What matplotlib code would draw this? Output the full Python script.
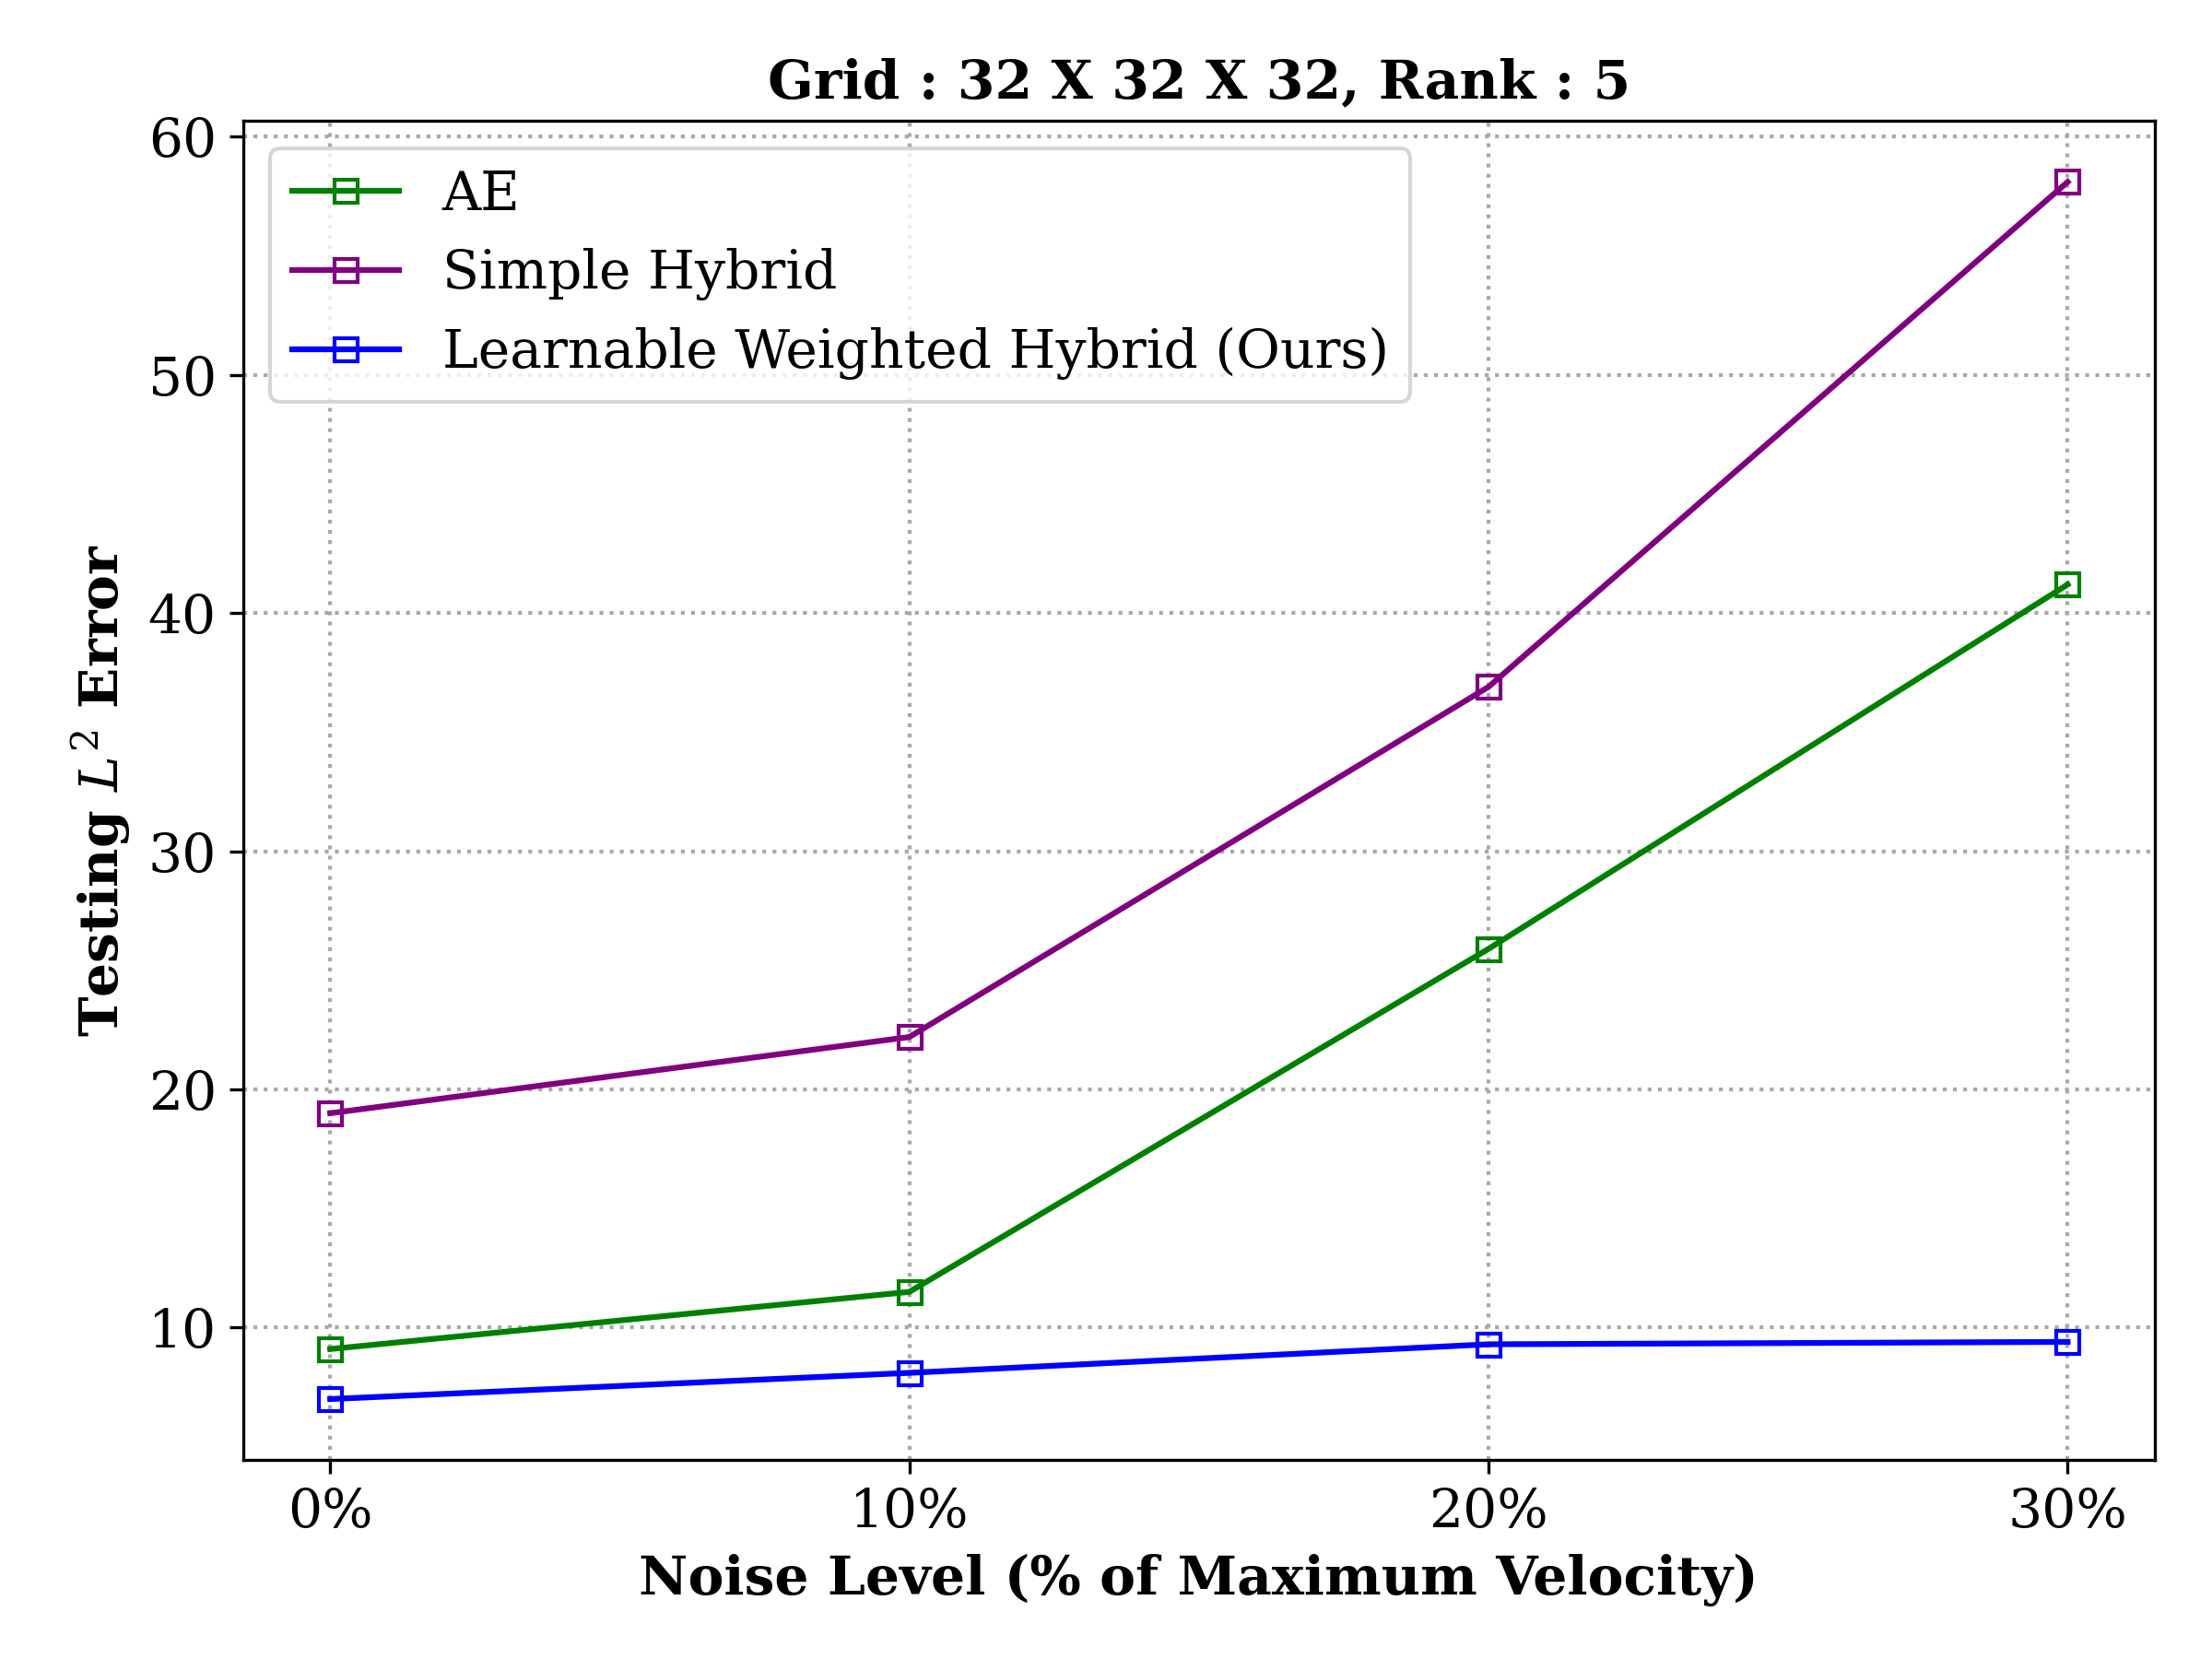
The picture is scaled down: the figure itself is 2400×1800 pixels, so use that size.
import matplotlib
matplotlib.use("Agg")
import matplotlib.pyplot as plt

plt.rcParams["font.family"] = "DejaVu Serif"
plt.rcParams["mathtext.fontset"] = "dejavuserif"

NOISE_LABELS = ["0%", "10%", "20%", "30%"]
NOISE_X = [0, 10, 20, 30]
AE = [9.1, 11.5, 25.9, 41.2]
SIMPLE_HYBRID = [19.0, 22.2, 36.9, 58.1]
LEARNABLE_HYBRID = [7.0, 8.1, 9.3, 9.4]

SERIES = [
    ("AE", AE, "green"),
    ("Simple Hybrid", SIMPLE_HYBRID, "purple"),
    ("Learnable Weighted Hybrid (Ours)", LEARNABLE_HYBRID, "blue"),
]

fig, ax = plt.subplots(figsize=(8, 6), dpi=300)
for name, vals, color in SERIES:
    ax.plot(NOISE_X, vals, "s-", color=color, markerfacecolor="none",
            markersize=6, linewidth=1.5, label=name)

ax.set_xticks(NOISE_X)
ax.set_xticklabels(NOISE_LABELS, fontsize=14)
ax.tick_params(axis="y", labelsize=14)
ax.set_xlabel("Noise Level (% of Maximum Velocity)", fontsize=14, fontweight="bold")
ax.set_ylabel(r"Testing $L^2$ Error", fontsize=14, fontweight="bold")
ax.set_title("Grid : 32 X 32 X 32, Rank : 5", fontsize=14, fontweight="bold")
ax.grid(True, linestyle=":", color="darkgray", linewidth=1.0)
ax.legend(loc="upper left", fontsize=14)

fig.subplots_adjust(left=0.110, right=0.974, top=0.927, bottom=0.120)
fig.savefig("out.png")
